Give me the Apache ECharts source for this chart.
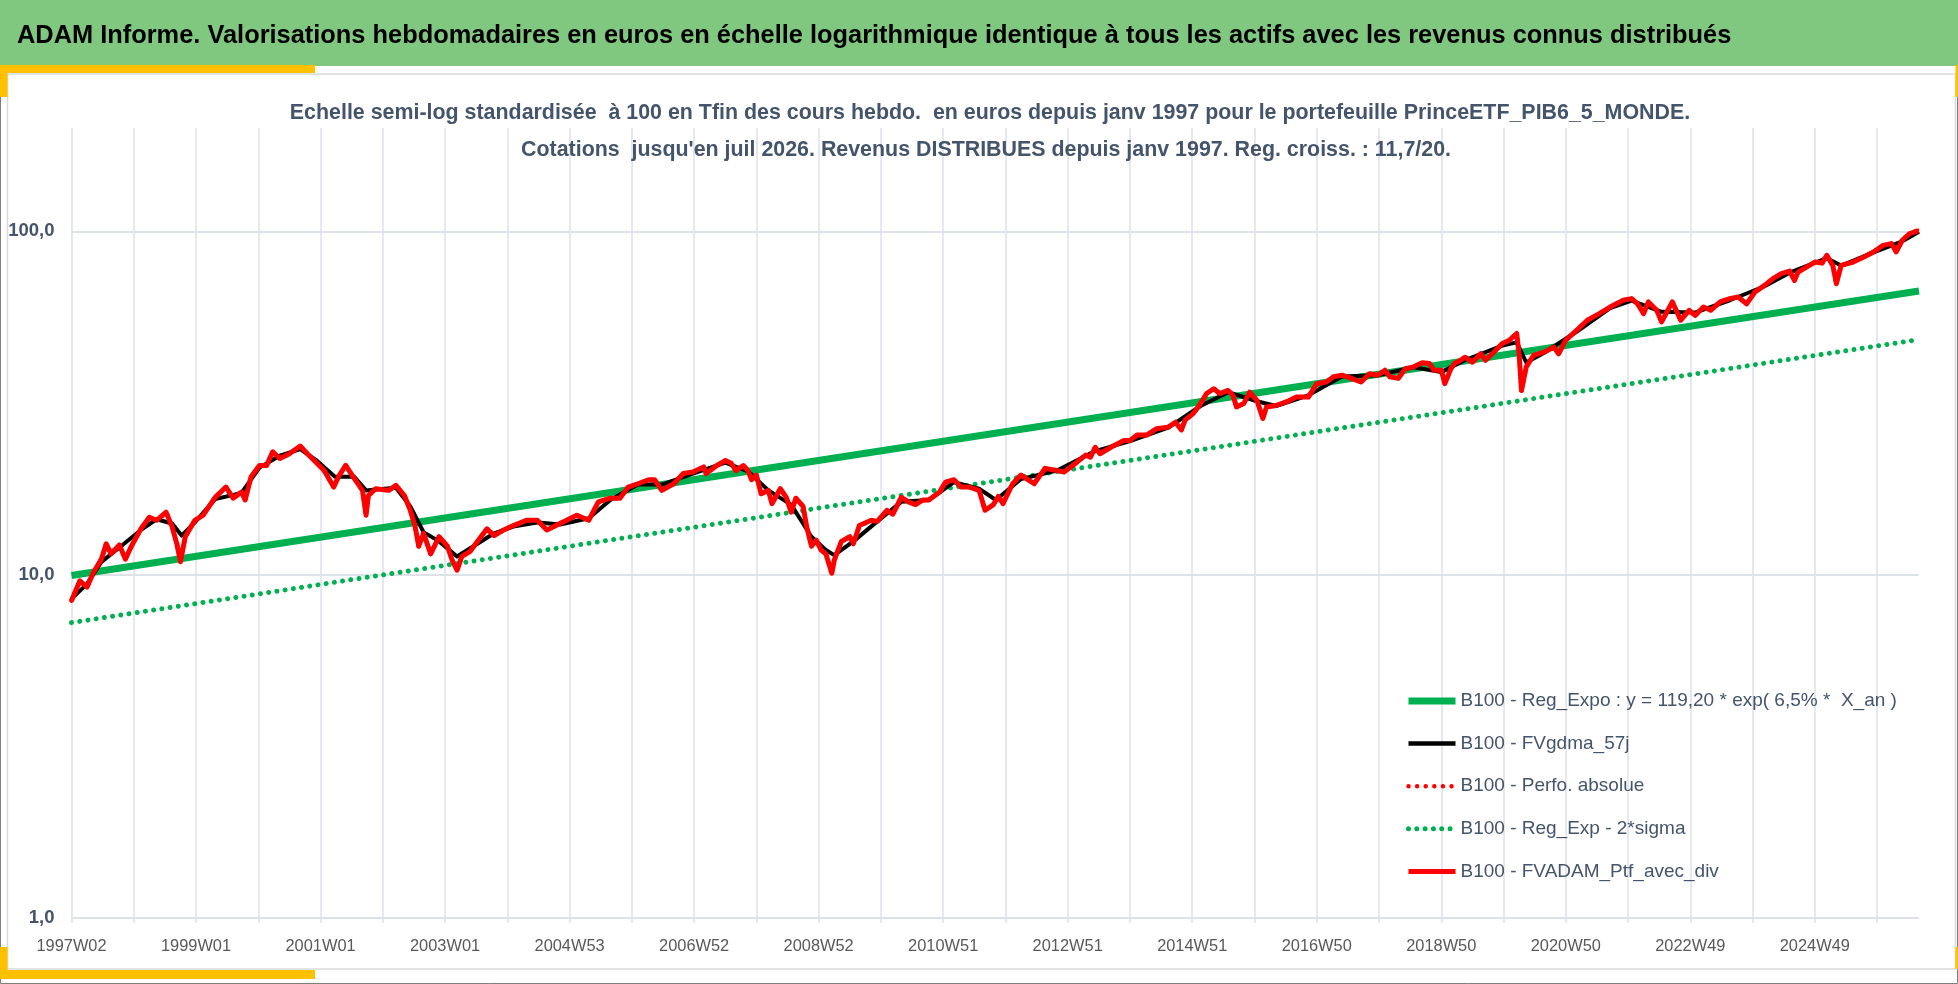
<!DOCTYPE html>
<html><head><meta charset="utf-8">
<script src="https://cdn.jsdelivr.net/npm/echarts@6/dist/echarts.min.js"></script>
<style>html,body{margin:0;padding:0;background:#fff}#c{width:1958px;height:984px}</style>
</head><body><div id="c"></div>
<script>
// ---------- DATA ----------
const tickLabels = ['1997W02','1999W01','2001W01','2003W01','2004W53','2006W52','2008W52','2010W51','2012W51','2014W51','2016W50','2018W50','2020W50','2022W49','2024W49'];
const weekCount = 1544; // weekly categories from 1997W02 to juil 2026
const weekIndex = Array.from({length: weekCount}, (_, i) => String(i));

const regExpo = [[0, 9.95], [1543, 67.0]];
const regExp2Sigma = [[0, 7.25], [1543, 48.4]];

const ptfAvecDiv = [
[0,8.4],[7,9.6],[13,9.2],[18,10.1],[25,11.1],[29,12.3],[33,11.5],[40,12.2],[45,11.1],[50,12.1],[58,13.6],[65,14.7],[71,14.4],[79,15.2],[84,13.8],[88,12.3],[91,10.9],[95,12.9],[103,14.4],[110,14.9],[120,16.8],[129,18.0],[135,16.7],[142,17.4],[145,16.5],[150,19.3],[157,20.8],[163,20.8],[168,22.8],[174,21.8],[182,22.5],[191,23.7],[197,22.5],[204,21.3],[211,20.1],[219,18.0],[223,19.3],[229,20.8],[236,19.1],[243,17.6],[246,14.9],[248,17.0],[254,17.8],[265,17.6],[271,18.2],[278,17.0],[283,15.4],[287,13.8],[290,12.1],[294,13.2],[300,11.5],[307,12.9],[314,12.1],[318,11.0],[322,10.3],[326,11.3],[333,11.7],[339,12.5],[347,13.6],[353,13.0],[361,13.5],[369,13.9],[380,14.4],
[389,14.4],[397,13.5],[408,14.1],[422,14.9],[432,14.4],[440,16.3],[450,16.7],[458,16.7],[465,18.0],[473,18.4],[482,18.9],[487,18.9],[493,17.6],[503,18.4],[511,19.7],[519,19.9],[528,20.6],[530,19.7],[539,20.8],[546,21.5],[551,21.1],[555,20.1],[561,20.8],[565,20.1],[568,18.9],[572,19.5],[576,17.2],[582,17.6],[585,16.1],[592,17.8],[597,16.8],[601,15.2],[605,16.7],[611,15.8],[614,13.8],[618,12.1],[622,12.6],[626,11.8],[630,11.5],[635,10.1],[637,11.0],[643,12.5],[650,12.9],[653,12.3],[658,13.9],[668,14.4],[673,14.3],[681,15.4],[686,15.0],[693,16.8],[699,16.3],[705,16.0],[711,16.5],[716,16.5],[725,17.4],[730,18.6],[737,18.9],[743,18.0],[750,18.0],[758,17.6],[763,15.4],[770,16.0],[774,16.9],[778,16.1],
[786,18.4],[793,19.5],[804,18.4],[813,20.4],[823,20.1],[829,19.9],[840,21.3],[847,22.3],[851,22.0],[855,23.5],[859,22.5],[868,23.5],[879,24.6],[884,24.6],[890,25.5],[898,25.5],[906,26.6],[916,26.9],[922,27.8],[927,26.4],[930,28.2],[937,29.5],[943,31.5],[948,33.7],[954,34.8],[959,33.7],[966,34.4],[970,33.3],[973,30.8],[979,31.5],[984,34.0],[990,32.2],[995,28.5],[998,30.8],[1006,31.1],[1015,31.9],[1023,32.9],[1033,32.9],[1040,36.0],[1048,36.4],[1054,37.7],[1061,38.1],[1069,37.3],[1077,36.4],[1084,38.5],[1091,38.1],[1097,39.4],[1101,37.7],[1108,37.3],[1114,39.8],[1121,40.3],[1128,41.4],[1134,41.2],[1138,39.4],[1144,39.4],[1147,36.0],[1152,39.8],
[1155,41.2],[1160,42.1],[1164,43.0],[1170,41.6],[1177,44.0],[1181,42.1],[1188,44.5],[1195,47.1],[1201,48.2],[1207,50.4],[1209,44.0],[1211,34.4],[1215,40.3],[1221,43.5],[1230,44.5],[1238,46.0],[1242,44.0],[1248,48.2],[1257,51.5],[1266,55.1],[1276,57.6],[1285,60.2],[1296,63.0],[1303,63.7],[1308,61.5],[1313,57.6],[1317,62.3],[1324,58.9],[1328,54.5],[1337,62.3],[1344,55.1],[1351,58.9],[1356,56.9],[1363,60.2],[1369,58.9],[1377,62.3],[1385,63.7],[1392,64.4],[1399,61.5],[1406,66.6],[1414,69.6],[1421,72.8],[1428,75.3],[1435,76.6],[1439,71.9],[1442,76.1],[1449,78.7],[1456,81.4],[1462,80.8],[1466,85.1],[1471,79.6],[1474,70.4],[1478,79.6],[1488,81.4],[1497,84.2],[1505,87.1],[1513,91.0],[1520,92.1],[1524,87.1],[1529,94.2],[1535,98.4],[1541,100.2],[1543,100.0]
];

const fvgdma57j = [
[0,8.5],[13,9.4],[25,10.9],[40,12.0],[58,13.5],[71,14.5],[84,14.1],[92,13.0],[103,14.2],[120,16.6],[142,17.3],[157,20.5],[174,22.2],[191,23.2],[204,21.6],[220,19.3],[236,19.3],[246,17.6],[254,17.7],[271,17.9],[283,15.8],[294,13.3],[307,12.5],[322,11.3],[339,12.3],[353,13.2],[369,13.8],[390,14.2],[408,14.0],[432,14.6],[450,16.5],[473,18.3],[493,18.3],[519,19.7],[546,21.2],[565,20.0],[582,17.6],[601,16.0],[618,12.9],[630,11.8],[637,11.4],[653,12.5],[673,14.3],[693,16.3],[716,16.5],[737,18.6],[758,17.8],[772,16.5],[793,19.0],[823,20.1],[855,22.9],[884,24.5],[916,26.8],[943,31.0],[966,34.0],[990,32.0],[1006,31.0],[1033,33.3],[1061,37.8],[1091,38.1],[1121,40.2],[1144,38.9],[1164,42.2],[1195,46.5],[1207,47.5],[1215,41.5],[1230,44.3],[1257,51.0],[1285,59.8],[1303,62.8],[1328,58.3],[1356,58.0],[1385,63.0],[1414,69.2],[1435,75.8],[1466,83.5],[1478,79.5],[1505,86.8],[1529,93.5],[1543,99.8]
];
const perfoAbsolue = ptfAvecDiv;

const seriesNames = {
  regExpo: 'B100 - Reg_Expo : y = 119,20 * exp( 6,5% *  X_an )',
  gdma: 'B100 - FVgdma_57j',
  perfo: 'B100 - Perfo. absolue',
  sigma: 'B100 - Reg_Exp - 2*sigma',
  ptf: 'B100 - FVADAM_Ptf_avec_div'
};
const headerTitle = 'ADAM Informe. Valorisations hebdomadaires en euros en échelle logarithmique identique à tous les actifs avec les revenus connus distribués';
const subTitle1 = 'Echelle semi-log standardisée  à 100 en Tfin des cours hebdo.  en euros depuis janv 1997 pour le portefeuille PrinceETF_PIB6_5_MONDE.';
const subTitle2 = "Cotations  jusqu'en juil 2026. Revenus DISTRIBUES depuis janv 1997. Reg. croiss. : 11,7/20.";

// ---------- STYLE ----------
const FF = '"Liberation Sans", Arial, sans-serif';
const TXT = '#44546a';
const GRID = '#dde1e8';
const GREEN = '#00b050', RED = '#ff0000', BLACK = '#000000';
const st = {
  regExpo: {color: GREEN, width: 7},
  sigma: {color: GREEN, width: 5, type: [0.01, 8.3], cap: 'round'},
  perfo: {color: RED, width: 4.5, type: [0.01, 8.6], cap: 'round'},
  gdma: {color: BLACK, width: 4, join: 'round'},
  ptf: {color: RED, width: 5, join: 'round'}
};

const chart = echarts.init(document.getElementById('c'), null, {renderer: 'canvas'});
const isPow10 = v => Math.abs(Math.log10(v) - Math.round(Math.log10(v))) < 1e-6;
const legendItem = k => ({name: seriesNames[k], lineStyle: Object.assign({}, st[k], k === 'gdma' ? {width: 4.5} : {}), itemStyle: {opacity: 0}});

chart.setOption({
  animation: false,
  backgroundColor: '#ffffff',
  graphic: [
    {type:'rect', silent:true, z:-10, shape:{x:0.5,y:0.5,width:1957,height:983}, style:{fill:'#ffffff', stroke:'#7f7f7f', lineWidth:1}},
    {type:'rect', silent:true, z:-9, shape:{x:0,y:0,width:1958,height:66}, style:{fill:'#80c880'}},
    {type:'rect', silent:true, z:-9, shape:{x:7.5,y:74,width:1948,height:895}, style:{fill:null, stroke:'#d9d9d9', lineWidth:1.5}},
    {type:'rect', silent:true, z:-8, shape:{x:0,y:65,width:315,height:8}, style:{fill:'#ffc000'}},
    {type:'rect', silent:true, z:-8, shape:{x:0,y:65,width:7.5,height:32}, style:{fill:'#ffc000'}},
    {type:'rect', silent:true, z:-8, shape:{x:0,y:970,width:315,height:9}, style:{fill:'#ffc000'}},
    {type:'rect', silent:true, z:-8, shape:{x:0,y:947,width:7.5,height:32}, style:{fill:'#ffc000'}},
    {type:'rect', silent:true, z:-8, shape:{x:1955.5,y:65,width:2.5,height:32}, style:{fill:'#ffc000'}},
    {type:'rect', silent:true, z:-8, shape:{x:1955.5,y:947,width:2.5,height:22}, style:{fill:'#ffc000'}},
    {type:'text', silent:true, z:5, x:17, y:36, style:{text: headerTitle, fill:'#000000', font:'bold 25.4px ' + FF, textAlign:'left', verticalAlign:'middle'}},
    {type:'text', silent:true, z:5, x:990, y:113, style:{text: subTitle1, fill:TXT, font:'bold 21.4px ' + FF, textAlign:'center', verticalAlign:'middle'}},
    {type:'text', silent:true, z:5, x:986, y:150, style:{text: subTitle2, fill:TXT, font:'bold 21.4px ' + FF, textAlign:'center', verticalAlign:'middle'}}
  ],
  grid: {left: 71.5, right: 39, top: 128, bottom: 66, containLabel: false},
  legend: {
    orient: 'vertical', left: 1405, top: 691, padding: 0,
    itemWidth: 47, itemHeight: 14, itemGap: 22.6,
    selectedMode: false,
    itemStyle: {opacity: 0},
    data: [legendItem('regExpo'), legendItem('gdma'), legendItem('perfo'), legendItem('sigma'), legendItem('ptf')],
    textStyle: {fontSize: 19, color: TXT, fontFamily: FF, lineHeight: 20}
  },
  xAxis: {
    type: 'category', boundaryGap: false, data: weekIndex,
    axisLine: {show: false},
    axisTick: {show: true, interval: i => i % 52 === 0, length: 5, lineStyle: {color: GRID, width: 1.5}},
    axisLabel: {interval: i => i % 104 === 0, formatter: (v, i) => tickLabels[i / 104] || '', color: '#595959', fontSize: 16.4, fontFamily: FF, margin: 20},
    splitLine: {show: true, interval: i => i % 52 === 0, lineStyle: {color: GRID, width: 1.5}}
  },
  yAxis: {
    type: 'log', logBase: 10, min: 1, max: 200,
    axisLine: {show: false}, axisTick: {show: false},
    splitLine: {show: true, showMaxLine: false, lineStyle: {color: GRID, width: 2}},
    axisLabel: {showMaxLabel: false, formatter: v => isPow10(v) ? v.toFixed(1).replace('.', ',') : '', fontWeight: 'bold', color: TXT, fontSize: 18.5, fontFamily: FF, margin: 17}
  },
  series: [
    {name: seriesNames.regExpo, type: 'line', data: regExpo, symbol: 'none', silent: true, lineStyle: st.regExpo, itemStyle: {color: GREEN}},
    {name: seriesNames.sigma, type: 'line', data: regExp2Sigma, symbol: 'none', silent: true, lineStyle: st.sigma, itemStyle: {color: GREEN}},
    {name: seriesNames.perfo, type: 'line', data: perfoAbsolue, symbol: 'none', silent: true, lineStyle: st.perfo, itemStyle: {color: RED}},
    {name: seriesNames.gdma, type: 'line', data: fvgdma57j, symbol: 'none', silent: true, lineStyle: st.gdma, itemStyle: {color: BLACK}},
    {name: seriesNames.ptf, type: 'line', data: ptfAvecDiv, symbol: 'none', silent: true, lineStyle: st.ptf, itemStyle: {color: RED}}
  ]
});
</script>
</body></html>
